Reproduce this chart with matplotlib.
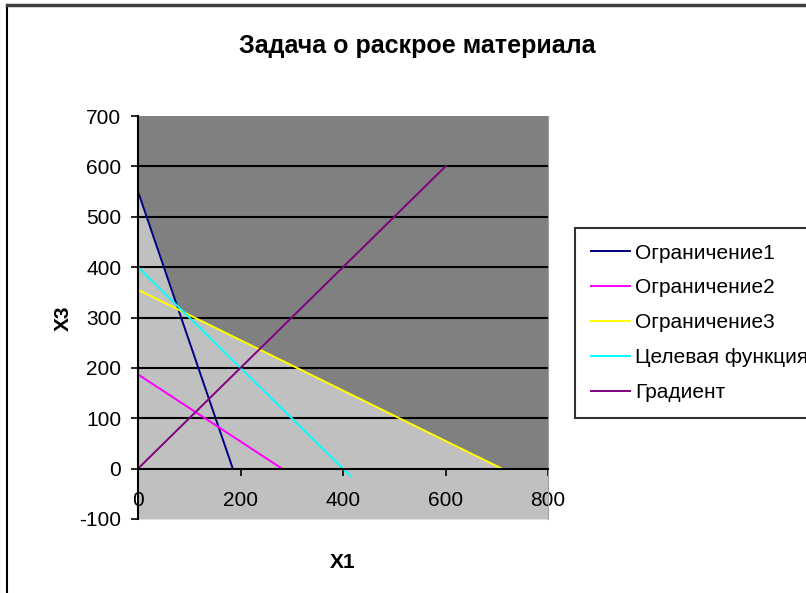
import matplotlib.pyplot as plt
from matplotlib.lines import Line2D

plt.rcParams['font.family'] = ['Liberation Sans', 'DejaVu Sans']
plt.rcParams['axes.unicode_minus'] = False

# Lines (X1, X3 endpoints)
c1_x = [0, 185]
c1_y = [550, 0]
c2_x = [0, 281]
c2_y = [187, 0]
c3_x = [0, 710]
c3_y = [355, 0]
goal_x = [0, 414]
goal_y = [400, -14]
grad_x = [0, 600]
grad_y = [0, 600]

# Light area (upper edge of the feasible region sketch)
area_x = [0, 79, 710, 800]
area_y = [550, 316, 0, 0]

labels = ['Ограничение1', 'Ограничение2', 'Ограничение3', 'Целевая функция', 'Градиент']
colors = ['#000080', '#FF00FF', '#FFFF00', '#00FFFF', '#800080']

fig = plt.figure(figsize=(8.06, 5.93), dpi=100)
ax = fig.add_axes([138 / 806, 1 - 519 / 593, 410 / 806, 403 / 593])
ax.set_facecolor('#808080')

ax.fill_between(area_x, -100, area_y, color='#C0C0C0', lw=0, zorder=0.5)
ax.hlines([100, 200, 300, 400, 500, 600], 0, 800, colors='black', lw=1.5, zorder=1)

series = [(c1_x, c1_y), (c2_x, c2_y), (c3_x, c3_y), (goal_x, goal_y), (grad_x, grad_y)]
for (xs, ys), lab, col in zip(series, labels, colors):
    ax.plot(xs, ys, color=col, lw=1.4, label=lab, zorder=2)

ax.set_xlim(0, 800)
ax.set_ylim(-100, 700)
ax.set_xticks([0, 200, 400, 600, 800])
ax.set_yticks(range(-100, 701, 100))
ax.spines['bottom'].set_position(('data', 0))
ax.spines['bottom'].set_linewidth(1.5)
ax.spines['left'].set_linewidth(1.5)
ax.spines['top'].set_visible(False)
ax.spines['right'].set_color('#a0a0a0')
ax.tick_params(direction='out', length=5, width=1.2, labelsize=15)
ax.tick_params(axis='y', pad=7)
ax.tick_params(axis='x', pad=11)

ax.set_title('Задача о раскрое материала', fontsize=18, fontweight='bold', pad=45, x=0.68)
fig.text(63 / 806, 1 - 318 / 593, 'X3', rotation=90, fontsize=15, fontweight='bold',
         ha='center', va='center')
fig.text(343 / 806, 1 - 563 / 593, 'X1', fontsize=15, fontweight='bold',
         ha='center', va='center')

leg = ax.legend(loc='upper left', bbox_to_anchor=(575 / 806, 1 - 228 / 593),
                bbox_transform=fig.transFigure, fontsize=15, frameon=True,
                fancybox=False, handlelength=1.9, handletextpad=0.25,
                labelspacing=0.76, borderpad=0.75, borderaxespad=0)
leg.get_frame().set_edgecolor('black')
leg.get_frame().set_linewidth(1.5)

# chart frame
fig.add_artist(Line2D([7 / 806, 7 / 806], [0, 1 - 5 / 593], color='black', lw=1.5,
                      transform=fig.transFigure))
fig.add_artist(Line2D([7 / 806, 1], [1 - 5 / 593, 1 - 5 / 593], color='#404040', lw=2.5,
                      transform=fig.transFigure))

fig.savefig('out.png', dpi=100)
